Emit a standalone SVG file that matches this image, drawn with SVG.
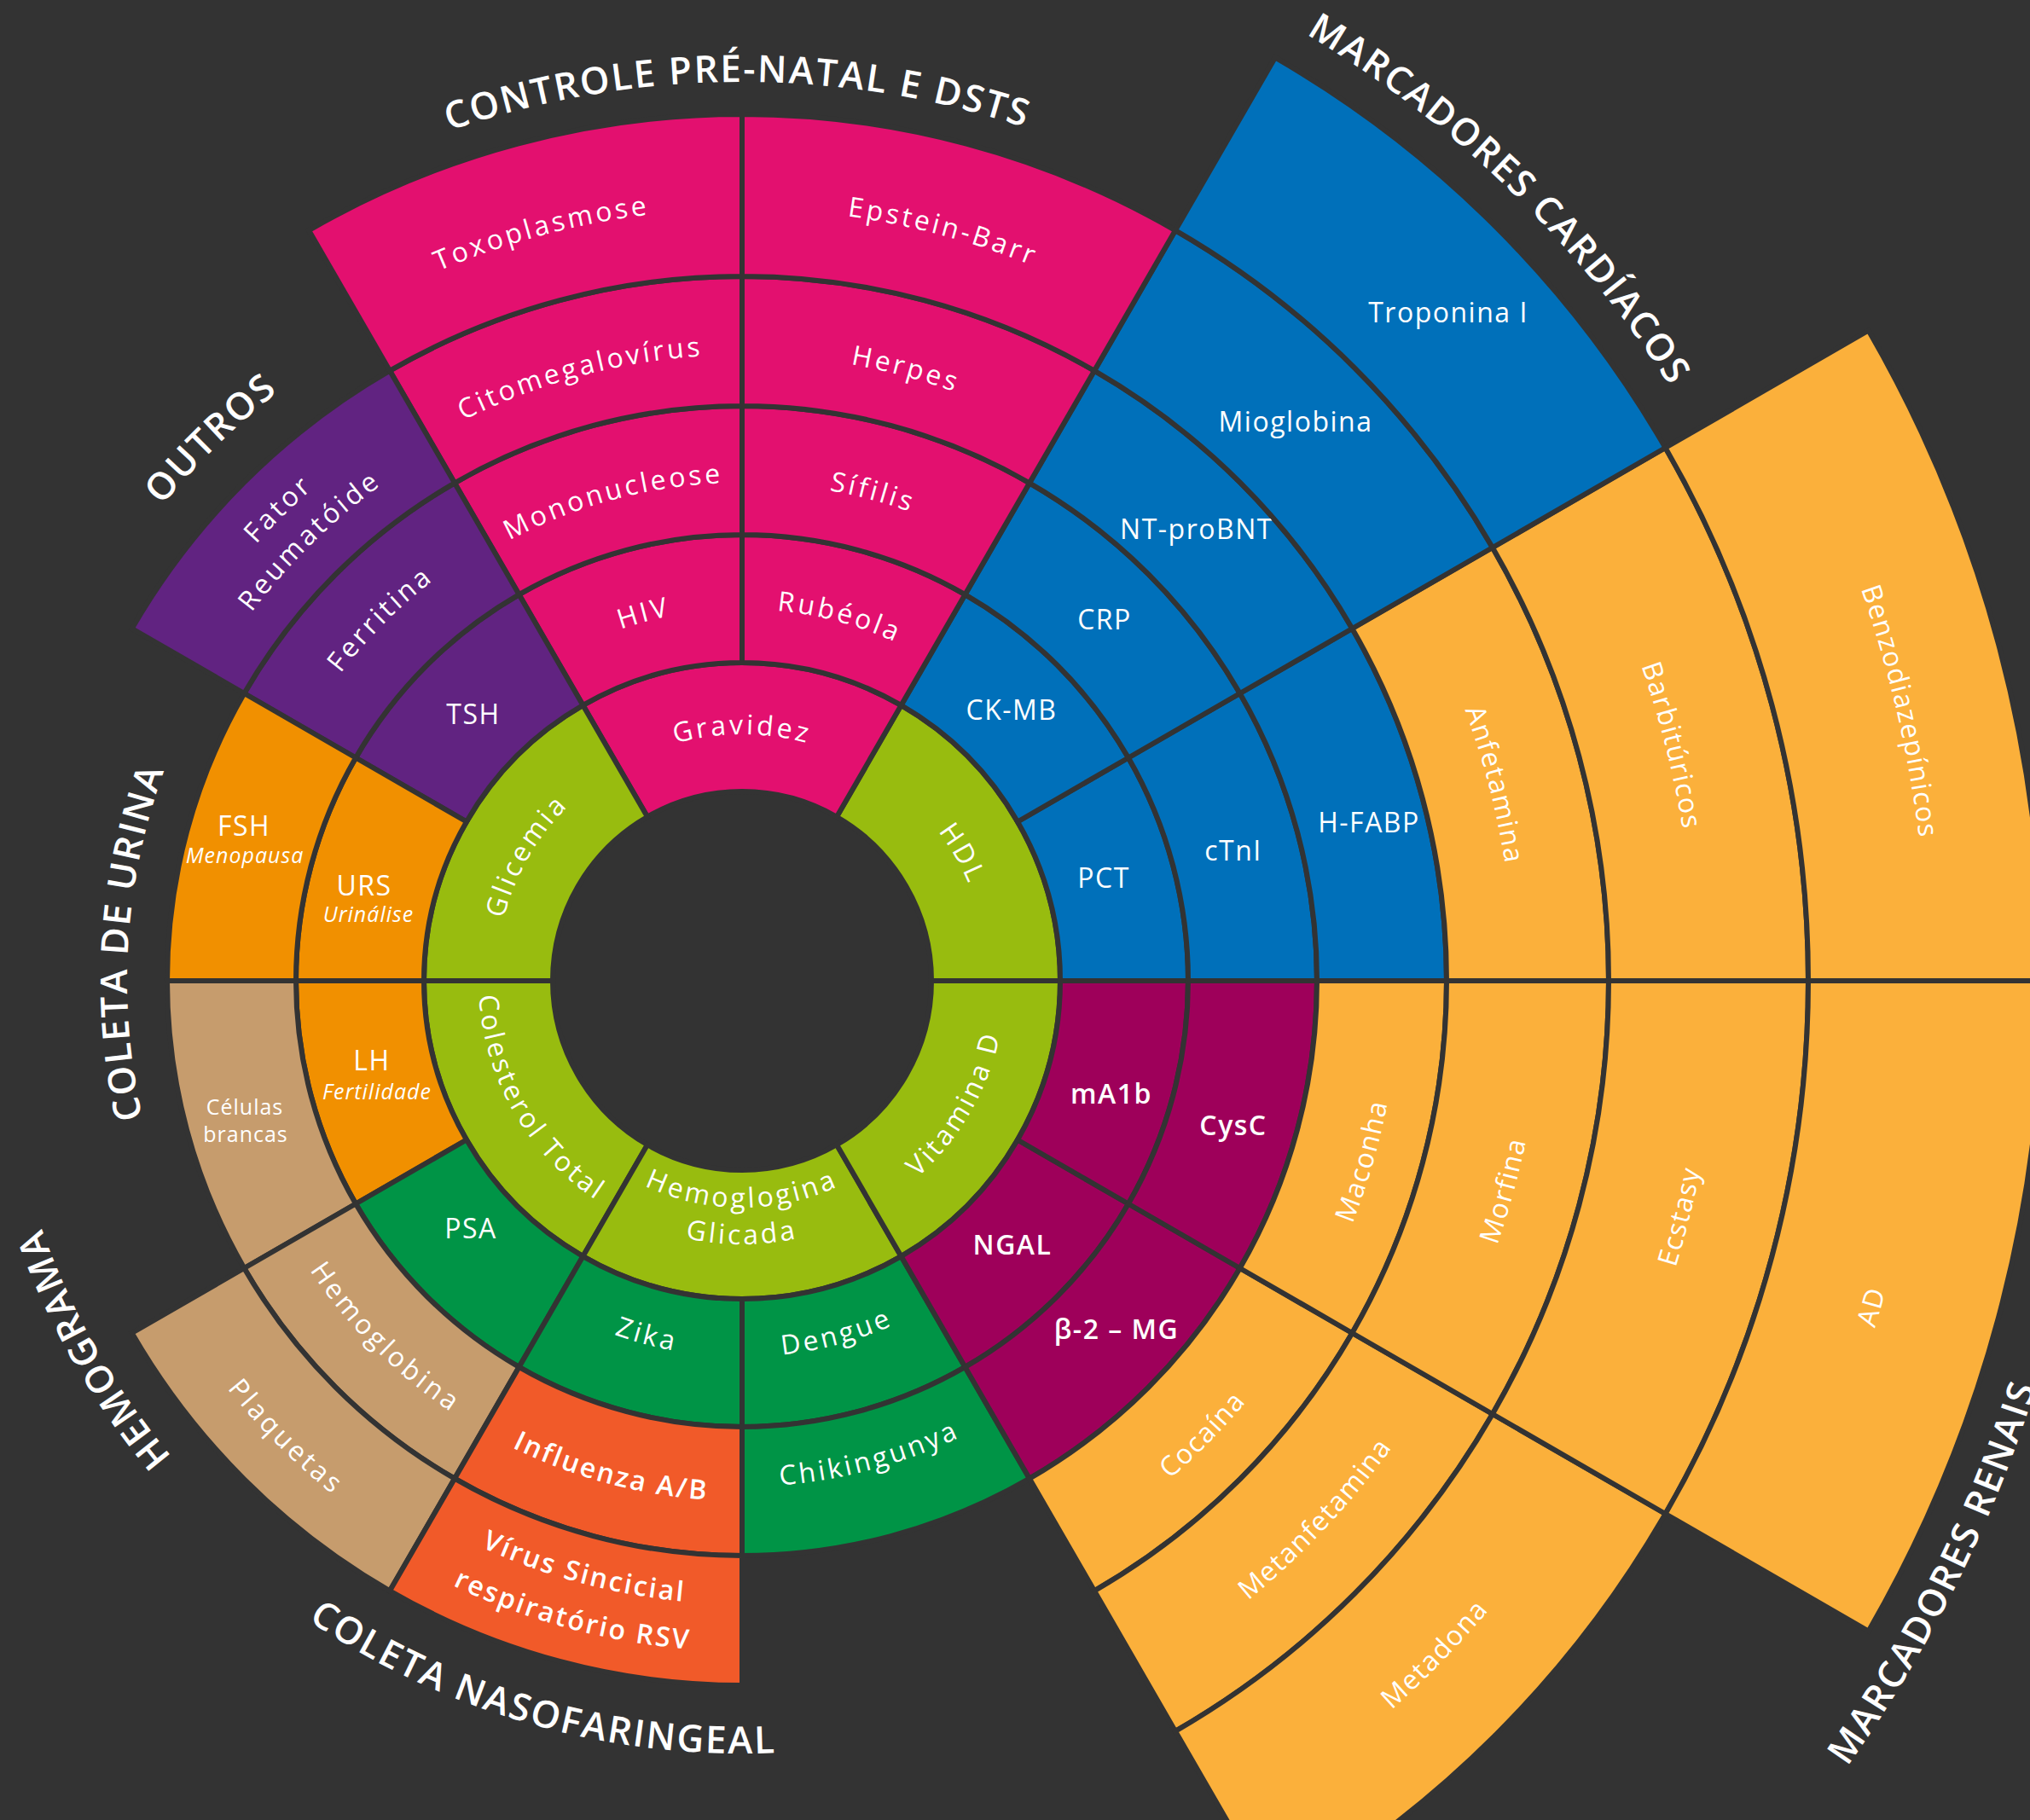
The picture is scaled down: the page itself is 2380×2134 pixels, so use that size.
<svg xmlns="http://www.w3.org/2000/svg" width="2380" height="2134" viewBox="0 0 2380 2134">
<style>
text{font-family:"Open Sans","Liberation Sans",sans-serif;fill:#fff;text-anchor:middle}
.l{font-size:32px;letter-spacing:1.5px}
.tg{font-size:32px;letter-spacing:3.5px}
.tb{font-weight:600}
.sub{font-size:25px;font-style:italic;letter-spacing:1px}
.sm{font-size:25px;letter-spacing:1px}
.grp{font-size:44px;letter-spacing:2.2px;font-weight:600}
.seg{stroke:#333333;stroke-width:6}
.green{fill:#98BC0F}.pink{fill:#E3106F}.blue{fill:#0070BA}.purple{fill:#612381}.orng{fill:#F19000}.tan{fill:#C69C6D}.red{fill:#F15A29}.dgreen{fill:#009446}.mag{fill:#9E005A}.lorng{fill:#FBB03B}
</style>
<defs>
<path id="t289" d="M648.61,964.23 A289,289 0 0 1 1091.39,964.23"/>
<path id="t436" d="M536,869.74 A436,436 0 0 1 1204,869.74"/>
<path id="t584" d="M422.63,774.61 A584,584 0 0 1 1317.37,774.61"/>
<path id="t593" d="M415.74,768.83 A593,593 0 0 1 1324.26,768.83"/>
<path id="t719" d="M319.22,687.83 A719,719 0 0 1 1420.78,687.83"/>
<path id="t721" d="M317.69,686.55 A721,721 0 0 1 1422.31,686.55"/>
<path id="t734" d="M307.73,678.19 A734,734 0 0 1 1432.27,678.19"/>
<path id="t766" d="M283.21,657.62 A766,766 0 0 1 1456.79,657.62"/>
<path id="t871" d="M202.78,590.13 A871,871 0 0 1 1537.22,590.13"/>
<path id="t879" d="M196.65,584.99 A879,879 0 0 1 1543.35,584.99"/>
<path id="t905" d="M176.73,568.28 A905,905 0 0 1 1563.27,568.28"/>
<path id="t1054" d="M62.59,472.5 A1054,1054 0 0 1 1677.41,472.5"/>
<path id="t1117" d="M14.33,432 A1117,1117 0 0 1 1725.67,432"/>
<path id="t1292" d="M-119.72,319.52 A1292,1292 0 0 1 1859.72,319.52"/>
<path id="t1390" d="M-194.8,256.52 A1390,1390 0 0 1 1934.8,256.52"/>
<path id="b266" d="M666.23,1320.98 A266,266 0 0 0 1073.77,1320.98"/>
<path id="b309" d="M633.29,1348.62 A309,309 0 0 0 1106.71,1348.62"/>
<path id="b441" d="M532.18,1433.47 A441,441 0 0 0 1207.82,1433.47"/>
<path id="b593" d="M415.74,1531.17 A593,593 0 0 0 1324.26,1531.17"/>
<path id="b610" d="M402.72,1542.1 A610,610 0 0 0 1337.28,1542.1"/>
<path id="b731" d="M310.03,1619.88 A731,731 0 0 0 1429.97,1619.88"/>
<path id="b770" d="M280.15,1644.95 A770,770 0 0 0 1459.85,1644.95"/>
<path id="b786" d="M267.89,1655.23 A786,786 0 0 0 1472.11,1655.23"/>
<path id="b906" d="M175.97,1732.37 A906,906 0 0 0 1564.03,1732.37"/>
<path id="b938" d="M151.45,1752.94 A938,938 0 0 0 1588.55,1752.94"/>
<path id="b1145" d="M-7.12,1885.99 A1145,1145 0 0 0 1747.12,1885.99"/>
<path id="b1389" d="M-194.03,2042.84 A1389,1389 0 0 0 1934.03,2042.84"/>
<path id="b1590" d="M-348,2172.04 A1590,1590 0 0 0 2088,2172.04"/>
</defs>
<rect width="2380" height="2134" fill="#333333"/>

<!-- Ring 1 -->
<g id="hdl"><path class="seg green" d="M1243,1150 A373,373 0 0 0 1056.5,826.97 L981,957.74 A222,222 0 0 1 1092,1150 Z"/><text class="tg" transform="rotate(60 870 1150)"><textPath href="#t289" startOffset="50%">HDL</textPath></text></g>
<g id="gravidez"><path class="seg pink" d="M1056.5,826.97 A373,373 0 0 0 683.5,826.97 L759,957.74 A222,222 0 0 1 981,957.74 Z"/><text class="tg"><textPath href="#t289" startOffset="50%">Gravidez</textPath></text></g>
<g id="glicemia"><path class="seg green" d="M683.5,826.97 A373,373 0 0 0 497,1150 L648,1150 A222,222 0 0 1 759,957.74 Z"/><text class="tg" transform="rotate(-60 870 1150)"><textPath href="#t289" startOffset="50%">Glicemia</textPath></text></g>
<g id="colesterol-total"><path class="seg green" d="M497,1150 A373,373 0 0 0 683.5,1473.03 L759,1342.26 A222,222 0 0 1 648,1150 Z"/><text class="tg" transform="rotate(60 870 1150)"><textPath href="#b309" startOffset="50%">Colesterol Total</textPath></text></g>
<g id="hemoglogina-glicada"><path class="seg green" d="M683.5,1473.03 A373,373 0 0 0 1056.5,1473.03 L981,1342.26 A222,222 0 0 1 759,1342.26 Z"/><text class="tg"><textPath href="#b266" startOffset="50%">Hemoglogina</textPath></text><text class="tg"><textPath href="#b309" startOffset="50%">Glicada</textPath></text></g>
<g id="vitamina-d"><path class="seg green" d="M1056.5,1473.03 A373,373 0 0 0 1243,1150 L1092,1150 A222,222 0 0 1 981,1342.26 Z"/><text class="tg" transform="rotate(-60 870 1150)"><textPath href="#b309" startOffset="50%">Vitamina D</textPath></text></g>

<!-- Ring 2 -->
<g id="pct"><path class="seg blue" d="M1393,1150 A523,523 0 0 0 1322.93,888.5 L1193.03,963.5 A373,373 0 0 1 1243,1150 Z"/><text class="l" x="1294" y="1041">PCT</text></g>
<g id="ck-mb"><path class="seg blue" d="M1322.93,888.5 A523,523 0 0 0 1131.5,697.07 L1056.5,826.97 A373,373 0 0 1 1193.03,963.5 Z"/><text class="l" x="1186" y="844">CK-MB</text></g>
<g id="rubeola"><path class="seg pink" d="M1131.5,697.07 A523,523 0 0 0 870,627 L870,777 A373,373 0 0 1 1056.5,826.97 Z"/><text class="tg" transform="rotate(15 870 1150)"><textPath href="#t436" startOffset="50%">Rubéola</textPath></text></g>
<g id="hiv"><path class="seg pink" d="M870,627 A523,523 0 0 0 608.5,697.07 L683.5,826.97 A373,373 0 0 1 870,777 Z"/><text class="tg" transform="rotate(-15 870 1150)"><textPath href="#t436" startOffset="50%">HIV</textPath></text></g>
<g id="tsh"><path class="seg purple" d="M608.5,697.07 A523,523 0 0 0 417.07,888.5 L546.97,963.5 A373,373 0 0 1 683.5,826.97 Z"/><text class="l" x="555" y="849">TSH</text></g>
<g id="urs"><path class="seg orng" d="M417.07,888.5 A523,523 0 0 0 347,1150 L497,1150 A373,373 0 0 1 546.97,963.5 Z"/><text class="l" x="427" y="1050">URS</text><text class="sub" x="432" y="1081">Urinálise</text></g>
<g id="lh"><path class="seg orng" d="M347,1150 A523,523 0 0 0 417.07,1411.5 L546.97,1336.5 A373,373 0 0 1 497,1150 Z"/><text class="l" x="436" y="1255">LH</text><text class="sub" x="442" y="1289">Fertilidade</text></g>
<g id="psa"><path class="seg dgreen" d="M417.07,1411.5 A523,523 0 0 0 608.5,1602.93 L683.5,1473.03 A373,373 0 0 1 546.97,1336.5 Z"/><text class="l" x="552" y="1452">PSA</text></g>
<g id="zika"><path class="seg dgreen" d="M608.5,1602.93 A523,523 0 0 0 870,1673 L870,1523 A373,373 0 0 1 683.5,1473.03 Z"/><text class="tg" transform="rotate(15 870 1150)"><textPath href="#b441" startOffset="50%">Zika</textPath></text></g>
<g id="dengue"><path class="seg dgreen" d="M870,1673 A523,523 0 0 0 1131.5,1602.93 L1056.5,1473.03 A373,373 0 0 1 870,1523 Z"/><text class="tg" transform="rotate(-15 870 1150)"><textPath href="#b441" startOffset="50%">Dengue</textPath></text></g>
<g id="ngal"><path class="seg mag" d="M1131.5,1602.93 A523,523 0 0 0 1322.93,1411.5 L1193.03,1336.5 A373,373 0 0 1 1056.5,1473.03 Z"/><text class="l tb" x="1187" y="1471">NGAL</text></g>
<g id="ma1b"><path class="seg mag" d="M1322.93,1411.5 A523,523 0 0 0 1393,1150 L1243,1150 A373,373 0 0 1 1193.03,1336.5 Z"/><text class="l tb" x="1303" y="1294">mA1b</text></g>

<!-- Ring 3 -->
<g id="ctni"><path class="seg blue" d="M1544,1150 A674,674 0 0 0 1453.7,813 L1322.93,888.5 A523,523 0 0 1 1393,1150 Z"/><text class="l" x="1446" y="1009">cTnI</text></g>
<g id="crp"><path class="seg blue" d="M1453.7,813 A674,674 0 0 0 1207,566.3 L1131.5,697.07 A523,523 0 0 1 1322.93,888.5 Z"/><text class="l" x="1295" y="738">CRP</text></g>
<g id="sifilis"><path class="seg pink" d="M1207,566.3 A674,674 0 0 0 870,476 L870,627 A523,523 0 0 1 1131.5,697.07 Z"/><text class="tg" transform="rotate(15 870 1150)"><textPath href="#t584" startOffset="50%">Sífilis</textPath></text></g>
<g id="mononucleose"><path class="seg pink" d="M870,476 A674,674 0 0 0 533,566.3 L608.5,697.07 A523,523 0 0 1 870,627 Z"/><text class="tg" transform="rotate(-15 870 1150)"><textPath href="#t584" startOffset="50%">Mononucleose</textPath></text></g>
<g id="ferritina"><path class="seg purple" d="M533,566.3 A674,674 0 0 0 286.3,813 L417.07,888.5 A523,523 0 0 1 608.5,697.07 Z"/><text class="tg" transform="rotate(-45 870 1150)"><textPath href="#t593" startOffset="50%">Ferritina</textPath></text></g>
<g id="fsh"><path class="seg orng" d="M286.3,813 A674,674 0 0 0 196,1150 L347,1150 A523,523 0 0 1 417.07,888.5 Z"/><text class="l" x="286" y="980">FSH</text><text class="sub" x="287" y="1012">Menopausa</text></g>
<g id="celulas-brancas"><path class="seg tan" d="M196,1150 A674,674 0 0 0 286.3,1487 L417.07,1411.5 A523,523 0 0 1 347,1150 Z"/><text class="sm" x="287" y="1307">Células</text><text class="sm" x="288" y="1339">brancas</text></g>
<g id="hemoglobina"><path class="seg tan" d="M286.3,1487 A674,674 0 0 0 533,1733.7 L608.5,1602.93 A523,523 0 0 1 417.07,1411.5 Z"/><text class="tg" transform="rotate(45 870 1150)"><textPath href="#b610" startOffset="50%">Hemoglobina</textPath></text></g>
<g id="influenza"><path class="seg red" d="M533,1733.7 A674,674 0 0 0 870,1824 L870,1673 A523,523 0 0 1 608.5,1602.93 Z"/><text class="l tb" style="letter-spacing:2.5px" transform="rotate(15 870 1150)"><textPath href="#b610" startOffset="50%">Influenza A/B</textPath></text></g>
<g id="chikingunya"><path class="seg dgreen" d="M870,1824 A674,674 0 0 0 1207,1733.7 L1131.5,1602.93 A523,523 0 0 1 870,1673 Z"/><text class="tg" transform="rotate(-15 870 1150)"><textPath href="#b593" startOffset="50%">Chikingunya</textPath></text></g>
<g id="beta2-mg"><path class="seg mag" d="M1207,1733.7 A674,674 0 0 0 1453.7,1487 L1322.93,1411.5 A523,523 0 0 1 1131.5,1602.93 Z"/><text class="l tb" x="1309" y="1570">β-2 – MG</text></g>
<g id="cysc"><path class="seg mag" d="M1453.7,1487 A674,674 0 0 0 1544,1150 L1393,1150 A523,523 0 0 1 1322.93,1411.5 Z"/><text class="l tb" x="1446" y="1331">CysC</text></g>

<!-- Ring 4 -->
<g id="h-fabp"><path class="seg blue" d="M1696,1150 A826,826 0 0 0 1585.34,737 L1453.7,813 A674,674 0 0 1 1544,1150 Z"/><text class="l" x="1605" y="976">H-FABP</text></g>
<g id="nt-probnt"><path class="seg blue" d="M1585.34,737 A826,826 0 0 0 1283,434.66 L1207,566.3 A674,674 0 0 1 1453.7,813 Z"/><text class="l" x="1403" y="632">NT-proBNT</text></g>
<g id="herpes"><path class="seg pink" d="M1283,434.66 A826,826 0 0 0 870,324 L870,476 A674,674 0 0 1 1207,566.3 Z"/><text class="tg" transform="rotate(15 870 1150)"><textPath href="#t734" startOffset="50%">Herpes</textPath></text></g>
<g id="citomegalovirus"><path class="seg pink" d="M870,324 A826,826 0 0 0 457,434.66 L533,566.3 A674,674 0 0 1 870,476 Z"/><text class="tg" transform="rotate(-15 870 1150)"><textPath href="#t734" startOffset="50%">Citomegalovírus</textPath></text></g>
<g id="fator-reumatoide"><path class="seg purple" d="M457,434.66 A826,826 0 0 0 154.66,737 L286.3,813 A674,674 0 0 1 533,566.3 Z"/><text class="tg" transform="rotate(-44.5 870 1150)"><textPath href="#t766" startOffset="50%">Fator</textPath></text><text class="tg" transform="rotate(-44.5 870 1150)"><textPath href="#t719" startOffset="50%">Reumatóide</textPath></text></g>
<g id="plaquetas"><path class="seg tan" d="M154.66,1563 A826,826 0 0 0 457,1865.34 L533,1733.7 A674,674 0 0 1 286.3,1487 Z"/><text class="tg" transform="rotate(45 870 1150)"><textPath href="#b770" startOffset="50%">Plaquetas</textPath></text></g>
<g id="virus-sincicial"><path class="seg red" d="M457,1865.34 A826,826 0 0 0 870,1976 L870,1824 A674,674 0 0 1 533,1733.7 Z"/><text class="l tb" style="letter-spacing:2.5px" transform="rotate(15 870 1150)"><textPath href="#b731" startOffset="50%">Vírus Sincicial</textPath></text><text class="l tb" style="letter-spacing:2.5px" transform="rotate(15 870 1150)"><textPath href="#b786" startOffset="50%">respiratório RSV</textPath></text></g>
<g id="cocaina"><path class="seg lorng" d="M1283,1865.34 A826,826 0 0 0 1585.34,1563 L1453.7,1487 A674,674 0 0 1 1207,1733.7 Z"/><text class="l" transform="rotate(-45.4 870 1150)"><textPath href="#b770" startOffset="50%">Cocaína</textPath></text></g>
<g id="maconha"><path class="seg lorng" d="M1585.34,1563 A826,826 0 0 0 1696,1150 L1544,1150 A674,674 0 0 1 1453.7,1487 Z"/><text class="l" transform="rotate(-73.8 870 1150)"><textPath href="#b770" startOffset="50%">Maconha</textPath></text></g>

<!-- Ring 5 -->
<g id="anfetamina"><path class="seg lorng" d="M1886,1150 A1016,1016 0 0 0 1749.89,642 L1585.34,737 A826,826 0 0 1 1696,1150 Z"/><text class="l" transform="rotate(75.4 870 1150)"><textPath href="#t905" startOffset="50%">Anfetamina</textPath></text></g>
<g id="mioglobina"><path class="seg blue" d="M1749.89,642 A1016,1016 0 0 0 1378,270.11 L1283,434.66 A826,826 0 0 1 1585.34,737 Z"/><text class="l" x="1519" y="506">Mioglobina</text></g>
<g id="epstein-barr"><path class="seg pink" d="M1378,270.11 A1016,1016 0 0 0 870,134 L870,324 A826,826 0 0 1 1283,434.66 Z"/><text class="tg" transform="rotate(15 870 1150)"><textPath href="#t905" startOffset="50%">Epstein-Barr</textPath></text></g>
<g id="toxoplasmose"><path class="seg pink" d="M870,134 A1016,1016 0 0 0 362,270.11 L457,434.66 A826,826 0 0 1 870,324 Z"/><text class="tg" transform="rotate(-15 870 1150)"><textPath href="#t905" startOffset="50%">Toxoplasmose</textPath></text></g>
<g id="metanfetamina"><path class="seg lorng" d="M1378,2029.89 A1016,1016 0 0 0 1749.89,1658 L1585.34,1563 A826,826 0 0 1 1283,1865.34 Z"/><text class="l" transform="rotate(-46.8 870 1150)"><textPath href="#b938" startOffset="50%">Metanfetamina</textPath></text></g>
<g id="morfina"><path class="seg lorng" d="M1749.89,1658 A1016,1016 0 0 0 1886,1150 L1696,1150 A826,826 0 0 1 1585.34,1563 Z"/><text class="l" transform="rotate(-74.6 870 1150)"><textPath href="#b938" startOffset="50%">Morfina</textPath></text></g>

<!-- Ring 6 -->
<g id="barbituricos"><path class="seg lorng" d="M2120,1150 A1250,1250 0 0 0 1952.53,525 L1749.89,642 A1016,1016 0 0 1 1886,1150 Z"/><text class="l" transform="rotate(75.8 870 1150)"><textPath href="#t1117" startOffset="50%">Barbitúricos</textPath></text></g>
<g id="troponina-i"><path class="seg blue" d="M1952.53,525 A1250,1250 0 0 0 1495,67.47 L1378,270.11 A1016,1016 0 0 1 1749.89,642 Z"/><text class="l" x="1698" y="378">Troponina I</text></g>
<g id="metadona"><path class="seg lorng" d="M1495,2232.53 A1250,1250 0 0 0 1952.53,1775 L1749.89,1658 A1016,1016 0 0 1 1378,2029.89 Z"/><text class="l" transform="rotate(-45.8 870 1150)"><textPath href="#b1145" startOffset="50%">Metadona</textPath></text></g>
<g id="ecstasy"><path class="seg lorng" d="M1952.53,1775 A1250,1250 0 0 0 2120,1150 L1886,1150 A1016,1016 0 0 1 1749.89,1658 Z"/><text class="l" transform="rotate(-75.9 870 1150)"><textPath href="#b1145" startOffset="50%">Ecstasy</textPath></text></g>

<!-- Ring 7 -->
<g id="benzodiazepinicos"><path class="seg lorng" d="M2395,1150 A1525,1525 0 0 0 2190.69,387.5 L1952.53,525 A1250,1250 0 0 1 2120,1150 Z"/><text class="l" transform="rotate(76.9 870 1150)"><textPath href="#t1390" startOffset="50%">Benzodiazepínicos</textPath></text></g>
<g id="ad"><path class="seg lorng" d="M2190.69,1912.5 A1525,1525 0 0 0 2395,1150 L2120,1150 A1250,1250 0 0 1 1952.53,1775 Z"/><text class="l" transform="rotate(-73.9 870 1150)"><textPath href="#b1389" startOffset="50%">AD</textPath></text></g>

<!-- Group labels -->
<g id="label-controle"><text class="grp" transform="rotate(-0.3 870 1150)"><textPath href="#t1054" startOffset="50%">CONTROLE PRÉ-NATAL E DSTS</textPath></text></g>
<g id="label-cardiacos"><text class="grp" transform="rotate(44.1 870 1150)"><textPath href="#t1292" startOffset="50%">MARCADORES CARDÍACOS</textPath></text></g>
<g id="label-outros"><text class="grp" transform="rotate(-44.4 870 1150)"><textPath href="#t879" startOffset="50%">OUTROS</textPath></text></g>
<g id="label-urina"><text class="grp" transform="rotate(-86.4 870 1150)"><textPath href="#t721" startOffset="50%">COLETA DE URINA</textPath></text></g>
<g id="label-hemograma"><text class="grp" transform="rotate(-119.6 870 1150)"><textPath href="#t871" startOffset="50%">HEMOGRAMA</textPath></text></g>
<g id="label-nasofaringeal"><text class="grp" transform="rotate(15.8 870 1150)"><textPath href="#b906" startOffset="50%">COLETA NASOFARINGEAL</textPath></text></g>
<g id="label-renais"><text class="grp" transform="rotate(-63.6 870 1150)"><textPath href="#b1590" startOffset="50%">MARCADORES RENAIS</textPath></text></g>
<g id="connectors"></g>
</svg>
